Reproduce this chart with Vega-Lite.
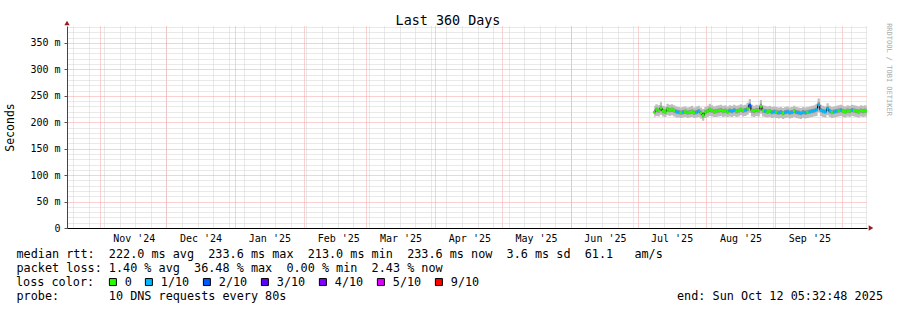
{
"$schema":"https://vega.github.io/schema/vega-lite/v6.json",
"width":800,"height":202,
"autosize":"none",
"padding":{"left":67,"top":26,"right":30,"bottom":82},
"background":"white",
"config":{"view":{"stroke":null},"font":"DejaVu Sans Mono"},
"title":{"text":"Last 360 Days","font":"DejaVu Sans Mono","fontSize":13.4,"fontWeight":"normal","color":"black","anchor":"middle","dx":-19,"offset":-18,"baseline":"alphabetic"},
"data":{"values":[
{"t":"2025-07-08T12:00","m":219,"a":209,"b":215,"c":224,"e":231,"l":"0"},
{"t":"2025-07-09T12:00","m":224,"a":212,"b":219,"c":228,"e":234,"l":"0"},
{"t":"2025-07-10T12:00","m":222,"a":211,"b":218,"c":226,"e":232,"l":"0"},
{"t":"2025-07-11T12:00","m":227,"a":214,"b":221,"c":231,"e":238,"l":"0"},
{"t":"2025-07-12T12:00","m":221,"a":211,"b":217,"c":225,"e":231,"l":"0"},
{"t":"2025-07-13T12:00","m":220,"a":210,"b":216,"c":224,"e":230,"l":"0"},
{"t":"2025-07-14T12:00","m":225,"a":213,"b":220,"c":229,"e":235,"l":"0"},
{"t":"2025-07-15T12:00","m":223,"a":212,"b":219,"c":227,"e":233,"l":"0"},
{"t":"2025-07-16T12:00","m":224,"a":213,"b":220,"c":228,"e":234,"l":"0"},
{"t":"2025-07-17T12:00","m":222,"a":211,"b":218,"c":226,"e":232,"l":"0"},
{"t":"2025-07-18T12:00","m":220,"a":209,"b":216,"c":224,"e":230,"l":"1/10"},
{"t":"2025-07-19T12:00","m":219,"a":209,"b":215,"c":223,"e":229,"l":"1/10"},
{"t":"2025-07-20T12:00","m":218,"a":208,"b":214,"c":222,"e":228,"l":"0"},
{"t":"2025-07-21T12:00","m":219,"a":209,"b":215,"c":223,"e":229,"l":"1/10"},
{"t":"2025-07-22T12:00","m":220,"a":210,"b":216,"c":224,"e":230,"l":"0"},
{"t":"2025-07-23T12:00","m":218,"a":208,"b":214,"c":222,"e":228,"l":"0"},
{"t":"2025-07-24T12:00","m":219,"a":209,"b":215,"c":223,"e":229,"l":"0"},
{"t":"2025-07-25T12:00","m":220,"a":210,"b":216,"c":224,"e":231,"l":"0"},
{"t":"2025-07-26T12:00","m":218,"a":208,"b":214,"c":222,"e":228,"l":"0"},
{"t":"2025-07-27T12:00","m":219,"a":209,"b":215,"c":223,"e":230,"l":"1/10"},
{"t":"2025-07-28T12:00","m":221,"a":210,"b":217,"c":225,"e":231,"l":"1/10"},
{"t":"2025-07-29T12:00","m":218,"a":207,"b":214,"c":222,"e":228,"l":"0"},
{"t":"2025-07-30T12:00","m":213,"a":203,"b":209,"c":218,"e":225,"l":"0"},
{"t":"2025-07-31T12:00","m":219,"a":208,"b":215,"c":223,"e":229,"l":"0"},
{"t":"2025-08-01T12:00","m":221,"a":210,"b":217,"c":225,"e":231,"l":"0"},
{"t":"2025-08-02T12:00","m":224,"a":212,"b":219,"c":228,"e":235,"l":"0"},
{"t":"2025-08-03T12:00","m":222,"a":211,"b":218,"c":226,"e":232,"l":"0"},
{"t":"2025-08-04T12:00","m":220,"a":210,"b":216,"c":224,"e":230,"l":"0"},
{"t":"2025-08-05T12:00","m":221,"a":210,"b":217,"c":225,"e":231,"l":"0"},
{"t":"2025-08-06T12:00","m":222,"a":211,"b":218,"c":226,"e":232,"l":"0"},
{"t":"2025-08-07T12:00","m":223,"a":212,"b":219,"c":227,"e":233,"l":"0"},
{"t":"2025-08-08T12:00","m":221,"a":210,"b":217,"c":225,"e":231,"l":"0"},
{"t":"2025-08-09T12:00","m":222,"a":211,"b":218,"c":226,"e":232,"l":"0"},
{"t":"2025-08-10T12:00","m":220,"a":210,"b":216,"c":224,"e":230,"l":"0"},
{"t":"2025-08-11T12:00","m":222,"a":211,"b":218,"c":226,"e":232,"l":"1/10"},
{"t":"2025-08-12T12:00","m":221,"a":210,"b":217,"c":225,"e":231,"l":"1/10"},
{"t":"2025-08-13T12:00","m":223,"a":212,"b":219,"c":227,"e":233,"l":"1/10"},
{"t":"2025-08-14T12:00","m":221,"a":210,"b":217,"c":225,"e":231,"l":"0"},
{"t":"2025-08-15T12:00","m":222,"a":211,"b":218,"c":226,"e":232,"l":"0"},
{"t":"2025-08-16T12:00","m":224,"a":213,"b":220,"c":228,"e":234,"l":"0"},
{"t":"2025-08-17T12:00","m":222,"a":211,"b":218,"c":226,"e":232,"l":"0"},
{"t":"2025-08-18T12:00","m":223,"a":212,"b":219,"c":227,"e":233,"l":"1/10"},
{"t":"2025-08-19T12:00","m":226,"a":214,"b":221,"c":230,"e":237,"l":"0"},
{"t":"2025-08-20T12:00","m":232,"a":218,"b":226,"c":237,"e":244,"l":"2/10"},
{"t":"2025-08-21T12:00","m":222,"a":211,"b":218,"c":226,"e":233,"l":"0"},
{"t":"2025-08-22T12:00","m":221,"a":210,"b":217,"c":225,"e":231,"l":"0"},
{"t":"2025-08-23T12:00","m":223,"a":212,"b":219,"c":227,"e":233,"l":"0"},
{"t":"2025-08-24T12:00","m":222,"a":211,"b":218,"c":226,"e":232,"l":"0"},
{"t":"2025-08-25T12:00","m":230,"a":216,"b":224,"c":235,"e":242,"l":"0"},
{"t":"2025-08-26T12:00","m":222,"a":211,"b":218,"c":226,"e":232,"l":"0"},
{"t":"2025-08-27T12:00","m":221,"a":210,"b":217,"c":225,"e":231,"l":"1/10"},
{"t":"2025-08-28T12:00","m":220,"a":209,"b":216,"c":224,"e":230,"l":"0"},
{"t":"2025-08-29T12:00","m":221,"a":210,"b":217,"c":225,"e":231,"l":"0"},
{"t":"2025-08-30T12:00","m":219,"a":208,"b":215,"c":223,"e":229,"l":"1/10"},
{"t":"2025-08-31T12:00","m":220,"a":209,"b":216,"c":224,"e":230,"l":"1/10"},
{"t":"2025-09-01T12:00","m":219,"a":208,"b":215,"c":223,"e":229,"l":"0"},
{"t":"2025-09-02T12:00","m":218,"a":207,"b":214,"c":222,"e":228,"l":"1/10"},
{"t":"2025-09-03T12:00","m":219,"a":208,"b":215,"c":223,"e":229,"l":"1/10"},
{"t":"2025-09-04T12:00","m":217,"a":206,"b":213,"c":221,"e":227,"l":"0"},
{"t":"2025-09-05T12:00","m":219,"a":208,"b":215,"c":223,"e":229,"l":"1/10"},
{"t":"2025-09-06T12:00","m":220,"a":209,"b":216,"c":224,"e":230,"l":"1/10"},
{"t":"2025-09-07T12:00","m":218,"a":207,"b":214,"c":222,"e":228,"l":"1/10"},
{"t":"2025-09-08T12:00","m":219,"a":208,"b":215,"c":223,"e":229,"l":"1/10"},
{"t":"2025-09-09T12:00","m":221,"a":210,"b":217,"c":225,"e":231,"l":"0"},
{"t":"2025-09-10T12:00","m":219,"a":208,"b":215,"c":223,"e":229,"l":"1/10"},
{"t":"2025-09-11T12:00","m":218,"a":207,"b":214,"c":222,"e":228,"l":"1/10"},
{"t":"2025-09-12T12:00","m":217,"a":206,"b":213,"c":221,"e":227,"l":"1/10"},
{"t":"2025-09-13T12:00","m":219,"a":208,"b":215,"c":223,"e":229,"l":"1/10"},
{"t":"2025-09-14T12:00","m":218,"a":207,"b":214,"c":222,"e":228,"l":"1/10"},
{"t":"2025-09-15T12:00","m":219,"a":208,"b":215,"c":223,"e":229,"l":"0"},
{"t":"2025-09-16T12:00","m":220,"a":209,"b":216,"c":224,"e":230,"l":"1/10"},
{"t":"2025-09-17T12:00","m":221,"a":210,"b":217,"c":225,"e":231,"l":"1/10"},
{"t":"2025-09-18T12:00","m":222,"a":211,"b":218,"c":226,"e":232,"l":"1/10"},
{"t":"2025-09-19T12:00","m":224,"a":212,"b":220,"c":228,"e":235,"l":"1/10"},
{"t":"2025-09-20T12:00","m":233,"a":219,"b":227,"c":238,"e":245,"l":"1/10"},
{"t":"2025-09-21T12:00","m":223,"a":212,"b":219,"c":227,"e":233,"l":"1/10"},
{"t":"2025-09-22T12:00","m":221,"a":210,"b":217,"c":225,"e":231,"l":"1/10"},
{"t":"2025-09-23T12:00","m":220,"a":209,"b":216,"c":224,"e":230,"l":"1/10"},
{"t":"2025-09-24T12:00","m":226,"a":213,"b":221,"c":230,"e":236,"l":"1/10"},
{"t":"2025-09-25T12:00","m":221,"a":210,"b":217,"c":225,"e":231,"l":"1/10"},
{"t":"2025-09-26T12:00","m":219,"a":208,"b":215,"c":223,"e":229,"l":"0"},
{"t":"2025-09-27T12:00","m":220,"a":209,"b":216,"c":224,"e":230,"l":"1/10"},
{"t":"2025-09-28T12:00","m":221,"a":210,"b":217,"c":225,"e":231,"l":"1/10"},
{"t":"2025-09-29T12:00","m":222,"a":211,"b":218,"c":226,"e":232,"l":"0"},
{"t":"2025-09-30T12:00","m":223,"a":212,"b":219,"c":227,"e":233,"l":"1/10"},
{"t":"2025-10-01T12:00","m":221,"a":210,"b":217,"c":225,"e":231,"l":"0"},
{"t":"2025-10-02T12:00","m":220,"a":209,"b":216,"c":224,"e":230,"l":"0"},
{"t":"2025-10-03T12:00","m":222,"a":211,"b":218,"c":226,"e":232,"l":"0"},
{"t":"2025-10-04T12:00","m":221,"a":210,"b":217,"c":225,"e":231,"l":"0"},
{"t":"2025-10-05T12:00","m":223,"a":212,"b":219,"c":227,"e":233,"l":"1/10"},
{"t":"2025-10-06T12:00","m":222,"a":211,"b":218,"c":226,"e":232,"l":"0"},
{"t":"2025-10-07T12:00","m":221,"a":210,"b":217,"c":225,"e":231,"l":"0"},
{"t":"2025-10-08T12:00","m":220,"a":209,"b":216,"c":224,"e":230,"l":"0"},
{"t":"2025-10-09T12:00","m":222,"a":211,"b":218,"c":226,"e":232,"l":"0"},
{"t":"2025-10-10T12:00","m":221,"a":210,"b":217,"c":225,"e":231,"l":"0"},
{"t":"2025-10-11T12:00","m":222,"a":211,"b":218,"c":226,"e":232,"l":"0"},
{"t":"2025-10-12T04:00","m":221,"a":210,"b":217,"c":225,"e":231,"l":"0"}
]},
"layer":[
{"mark":{"type":"area","interpolate":"step","color":"#bebebe","clip":true},
 "encoding":{
  "x":{"field":"t","type":"temporal",
   "scale":{"domain":[{"year":2024,"month":10,"date":17,"hours":5,"minutes":32,"seconds":48},{"year":2025,"month":10,"date":12,"hours":5,"minutes":32,"seconds":48}]},
   "axis":{"orient":"bottom","tickCount":{"interval":"week","step":1},"grid":true,"gridColor":"#d2d2d2","gridDash":[1,1],"gridWidth":1,"labels":false,"ticks":false,"domain":false,
    "title":"probe:\u00a0\u00a0\u00a0\u00a0\u00a0\u00a0\u00a010 DNS requests every 80s\u00a0\u00a0\u00a0\u00a0\u00a0\u00a0\u00a0\u00a0\u00a0\u00a0\u00a0\u00a0\u00a0\u00a0\u00a0\u00a0\u00a0\u00a0\u00a0\u00a0\u00a0\u00a0\u00a0\u00a0\u00a0\u00a0\u00a0\u00a0\u00a0\u00a0\u00a0\u00a0\u00a0\u00a0\u00a0\u00a0\u00a0\u00a0\u00a0\u00a0\u00a0\u00a0\u00a0\u00a0\u00a0\u00a0\u00a0\u00a0\u00a0\u00a0\u00a0\u00a0\u00a0\u00a0\u00a0end: Sun Oct 12 05:32:48 2025",
    "titleFont":"DejaVu Sans Mono","titleFontSize":11.8,"titleFontWeight":"normal","titleColor":"black","titleAlign":"left","titleX":-51,"titleY":62,"titleBaseline":"top"}},
  "y":{"field":"a","type":"quantitative",
   "scale":{"domain":[0,382],"nice":false,"zero":true},
   "axis":{"orient":"left","values":[10,20,30,40,60,70,80,90,110,120,130,140,160,170,180,190,210,220,230,240,260,270,280,290,310,320,330,340,360,370,380],"grid":true,"gridColor":"#d2d2d2","gridDash":[1,1],"labels":false,"ticks":false,"domain":false,
    "title":"RRDTOOL / TOBI OETIKER","titleFont":"DejaVu Sans Mono","titleFontSize":7,"titleFontWeight":"normal","titleColor":"#aaaaaa","titleAngle":90,"titleX":821,"titleY":43,"titleAlign":"center","titleBaseline":"middle"}},
  "y2":{"field":"e"}
 }},
{"mark":{"type":"area","interpolate":"step","color":"#929292","clip":true},
 "encoding":{
  "x":{"field":"t","type":"temporal",
   "axis":{"orient":"bottom","tickCount":{"interval":"month","step":1},"grid":true,"gridColor":"#f4a0a0","gridDash":[1,1],"gridWidth":1,
    "labelExpr":"(year(datum.value) == 2025 && month(datum.value) == 9) ? '' : timeFormat(datum.value, \"%b '%y\")",
    "labelOffset":34,"labelAlign":"center","labelBaseline":"top","labelPadding":5,"labelFont":"DejaVu Sans Mono","labelFontSize":10,"labelColor":"black","labelOverlap":false,"labelBound":false,"labelFlush":false,
    "ticks":false,"domain":true,"domainColor":"black","domainWidth":1,
    "title":["median rtt:\u00a0\u00a0222.0 ms avg\u00a0\u00a0233.6 ms max\u00a0\u00a0213.0 ms min\u00a0\u00a0233.6 ms now\u00a0\u00a03.6 ms sd\u00a0\u00a061.1\u00a0\u00a0\u00a0am/s","packet loss: 1.40 % avg\u00a0\u00a036.48 % max\u00a0\u00a00.00 % min\u00a0\u00a02.43 % now"],
    "titleFont":"DejaVu Sans Mono","titleFontSize":11.8,"titleFontWeight":"normal","titleColor":"black","titleAlign":"left","titleX":-51,"titleY":20,"titleBaseline":"top","titleLineHeight":14}},
  "y":{"field":"b","type":"quantitative",
   "axis":{"orient":"left","values":[0,50,100,150,200,250,300,350],"grid":true,"gridColor":"#f4a0a0","gridDash":[1,1],"gridWidth":1,
    "labelExpr":"datum.value == 0 ? '0' : datum.value + ' m'","labelFont":"DejaVu Sans Mono","labelFontSize":10,"labelColor":"black","labelPadding":4,
    "ticks":true,"tickSize":3,"tickColor":"#555555","domain":true,"domainColor":"#444444",
    "title":"Seconds","titleFont":"DejaVu Sans Mono","titleFontSize":11.5,"titleFontWeight":"normal","titleColor":"black","titleAngle":-90,"titleX":-57,"titleY":101,"titleAlign":"center","titleBaseline":"middle"}},
  "y2":{"field":"c"}
 }},
{"mark":{"type":"line","interpolate":"step","color":"black","strokeWidth":1,"clip":true},
 "encoding":{"x":{"field":"t","type":"temporal","axis":null},"y":{"field":"m","type":"quantitative","axis":null}}},
{"mark":{"type":"point","shape":"square","filled":true,"size":7,"opacity":1,"clip":true},
 "encoding":{"x":{"field":"t","type":"temporal","axis":null},"y":{"field":"m","type":"quantitative","axis":null},
  "color":{"field":"l","type":"nominal",
   "scale":{"domain":["0","1/10","2/10","3/10","4/10","5/10","9/10"],"range":["#26ff00","#00b8ff","#0059ff","#5e00ff","#7e00ff","#dd00ff","#ff0000"]},
   "legend":{"orient":"none","legendX":-51,"legendY":250,"direction":"horizontal","columns":7,
    "title":"loss color:","titleOrient":"left","titleFont":"DejaVu Sans Mono","titleFontSize":11.8,"titleFontWeight":"normal","titleColor":"black","titlePadding":12,"titleBaseline":"middle",
    "symbolType":"square","symbolSize":49,"symbolStrokeColor":"black","symbolStrokeWidth":1,"symbolOpacity":1,"labelFont":"DejaVu Sans Mono","labelFontSize":11.8,"labelColor":"black","labelOffset":6,"columnPadding":11,"padding":0,"offset":0}}}},
{"data":{"values":[{}]},
 "mark":{"type":"point","shape":"triangle-up","filled":true,"color":"#9b1c1c","size":28,"opacity":1,"yOffset":-3},
 "encoding":{"x":{"datum":{"year":2024,"month":10,"date":17,"hours":5,"minutes":32,"seconds":48},"type":"temporal","axis":null},"y":{"datum":382,"type":"quantitative","axis":null}}},
{"data":{"values":[{}]},
 "mark":{"type":"point","shape":"triangle-right","filled":true,"color":"#9b1c1c","size":28,"opacity":1,"xOffset":4},
 "encoding":{"x":{"datum":{"year":2025,"month":10,"date":12,"hours":5,"minutes":32,"seconds":48},"type":"temporal","axis":null},"y":{"datum":0,"type":"quantitative","axis":null}}}
],
"resolve":{"axis":{"x":"independent","y":"independent"}}
}
